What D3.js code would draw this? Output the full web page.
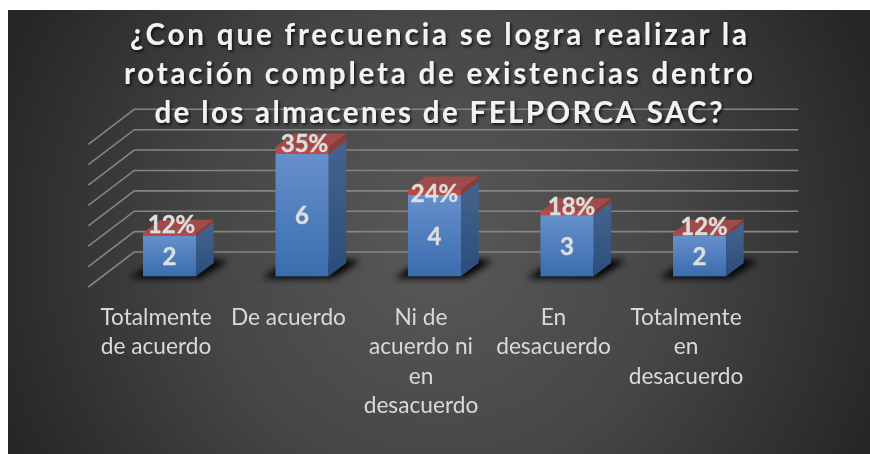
<!DOCTYPE html>
<html>
<head>
<meta charset="utf-8">
<script src="https://cdn.jsdelivr.net/npm/d3@7"></script>
<style>
html, body { margin: 0; padding: 0; background: #fff; overflow: hidden; }
svg { display: block; }
text { font-family: Lato, "Open Sans", sans-serif; }
</style>
</head>
<body>
<svg width="870" height="454"></svg>
<script>
// Chart values
var categories = ["Totalmente de acuerdo", "De acuerdo", "Ni de acuerdo ni en desacuerdo", "En desacuerdo", "Totalmente en desacuerdo"];
var counts = [2, 6, 4, 3, 2];
var shares = [0.12, 0.35, 0.24, 0.18, 0.12];
var yTicks = [0, 1, 2, 3, 4, 5, 6, 7];
var titleLines = ["¿Con que frecuencia se logra realizar la", "rotación completa de existencias dentro", "de los almacenes de FELPORCA SAC?"];
var categoryLines = [
    ["Totalmente", "de acuerdo"],
    ["De acuerdo"],
    ["Ni de", "acuerdo ni", "en", "desacuerdo"],
    ["En", "desacuerdo"],
    ["Totalmente", "en", "desacuerdo"]
];

var svg = d3.select("svg");

// Scales, y is measured on the back wall
var x = d3.scaleBand().domain(categories).range([103.25, 765.75]).paddingInner(0.6).paddingOuter(0.3);
var y = d3.scaleLinear().domain([0, 7]).range([252, 109.3]);

// 3d offsets
var frontDrop = 24.3;    // wall to bar front
var depthX = 17.7, depthY = -13.3;    // bar depth
var sideX = -46, sideY = 35;    // floor lines on the left wall
var line = d3.line();

var defs = svg.append("defs");

var bg = defs.append("radialGradient").attr("id", "bg")
    .attr("gradientUnits", "userSpaceOnUse")
    .attr("cx", 439).attr("cy", 245).attr("r", 470);
bg.append("stop").attr("offset", "0").attr("stop-color", "#595959");
bg.append("stop").attr("offset", "0.5").attr("stop-color", "#464646");
bg.append("stop").attr("offset", "1").attr("stop-color", "#262626");

function vertical(id, top, bottom) {
    var g = defs.append("linearGradient").attr("id", id).attr("x1", 0).attr("y1", 0).attr("x2", 0).attr("y2", 1);
    g.append("stop").attr("offset", "0").attr("stop-color", top);
    g.append("stop").attr("offset", "1").attr("stop-color", bottom);
}
vertical("blueFront", "#6690cb", "#3a6cae");
vertical("blueSide", "#45658f", "#2a4d7a");

defs.append("filter").attr("id", "soft").attr("x", "-30%").attr("y", "-60%").attr("width", "160%").attr("height", "220%")
    .append("feGaussianBlur").attr("stdDeviation", 3.5);
defs.append("filter").attr("id", "crisp")
    .append("feGaussianBlur").attr("stdDeviation", 0.45);
var titleShadow = defs.append("filter").attr("id", "titleShadow").attr("x", "-5%").attr("y", "-10%").attr("width", "110%").attr("height", "125%");
titleShadow.append("feGaussianBlur").attr("stdDeviation", 0.4);
titleShadow.append("feDropShadow").attr("dx", 1.5).attr("dy", 2).attr("stdDeviation", 1.4)
    .attr("flood-color", "#000").attr("flood-opacity", 0.75);

// Background
svg.append("rect").attr("x", 8).attr("y", 10).attr("width", 862).attr("height", 444).attr("fill", "url(#bg)");

// Gridlines: back wall and left wall
var grid = svg.append("g").attr("fill", "none").attr("stroke", "#858585").attr("stroke-width", 1.6);
grid.selectAll("path")
    .data(yTicks)
    .enter()
    .append("path")
    .attr("d", function (d) {
        return line([[134.3 + sideX, y(d) + sideY], [134.3, y(d)], [798.3, y(d)]]);
    });

// Floor shadows
svg.append("g").selectAll("path")
    .data(categories)
    .enter()
    .append("path")
    .attr("fill", "#050505")
    .attr("filter", "url(#soft)")
    .attr("d", function (d) {
        var x0 = x(d), x1 = x0 + x.bandwidth(), floor = y(0) + frontDrop;
        return line([[x0 - 14, floor + 2], [x1 + 4, floor + 2], [x1 + 32, floor - 15], [x1 + 8, floor - 18], [x0 + 8, floor - 12]]) + "Z";
    });

// Bars
var bars = svg.append("g").attr("filter", "url(#crisp)").selectAll("g")
    .data(categories)
    .enter()
    .append("g");

// side faces, one for the count and one for the share stacked on it
bars.append("path")
    .attr("fill", "url(#blueSide)")
    .attr("d", function (d, i) {
        var x1 = x(d) + x.bandwidth(), base = y(0) + frontDrop, top = y(counts[i]) + frontDrop;
        return line([[x1, base], [x1 + depthX, base + depthY], [x1 + depthX, top + depthY], [x1, top]]) + "Z";
    });
bars.append("path")
    .attr("fill", "#8e3b39")
    .attr("d", function (d, i) {
        var x1 = x(d) + x.bandwidth(), low = y(counts[i]) + frontDrop, top = y(counts[i] + shares[i]) + frontDrop;
        return line([[x1, low], [x1 + depthX, low + depthY], [x1 + depthX, top + depthY], [x1, top]]) + "Z";
    });
// top face
bars.append("path")
    .attr("fill", "#9e4c4a")
    .attr("d", function (d, i) {
        var x0 = x(d), x1 = x0 + x.bandwidth(), top = y(counts[i] + shares[i]) + frontDrop;
        return line([[x0, top], [x1, top], [x1 + depthX, top + depthY], [x0 + depthX, top + depthY]]) + "Z";
    });
// front faces
bars.append("rect")
    .attr("x", function (d) { return x(d); })
    .attr("y", function (d, i) { return y(counts[i]) + frontDrop; })
    .attr("width", x.bandwidth())
    .attr("height", function (d, i) { return y(0) - y(counts[i]); })
    .attr("fill", "url(#blueFront)");
bars.append("rect")
    .attr("x", function (d) { return x(d); })
    .attr("y", function (d, i) { return y(counts[i] + shares[i]) + frontDrop; })
    .attr("width", x.bandwidth())
    .attr("height", function (d, i) { return y(counts[i]) - y(counts[i] + shares[i]); })
    .attr("fill", "#bd4a47");

// Data labels
var labels = svg.append("g").attr("filter", "url(#crisp)").attr("fill", "#dedede").attr("stroke", "#dedede").attr("stroke-width", 0.4)
    .attr("font-weight", 700).attr("font-size", 24).attr("text-anchor", "middle");
labels.selectAll("text.count")
    .data(categories)
    .enter()
    .append("text")
    .attr("class", "count")
    .attr("x", function (d) { return x(d) + x.bandwidth() / 2; })
    .attr("y", function (d, i) { return (y(0) + y(counts[i])) / 2 + frontDrop + 9; })
    .text(function (d, i) { return counts[i]; });

// percent labels were moved by hand in the original
var shareNudge = [[2, -10], [2.5, -7], [0, 1], [4.5, -7], [4.5, -7.5]];
labels.selectAll("text.share")
    .data(categories)
    .enter()
    .append("text")
    .attr("class", "share")
    .attr("x", function (d, i) { return x(d) + x.bandwidth() / 2 + shareNudge[i][0]; })
    .attr("y", function (d, i) {
        return (y(counts[i]) + y(counts[i] + shares[i])) / 2 + frontDrop + 8.5 + shareNudge[i][1];
    })
    .text(function (d, i) { return Math.round(shares[i] * 100) + "%"; });

// Category labels
var catLabels = svg.append("g").attr("filter", "url(#crisp)").attr("fill", "#d9d9d9").attr("font-size", 22.7).attr("text-anchor", "middle");
catLabels.selectAll("text")
    .data(categories)
    .enter()
    .append("text")
    .attr("y", 325)
    .each(function (d, i) {
        d3.select(this).selectAll("tspan")
            .data(categoryLines[i])
            .enter()
            .append("tspan")
            .attr("x", x(d) + x.bandwidth() / 2 - 13.5)
            .attr("y", function (t, j) { return 325 + j * 29.4; })
            .text(function (t) { return t; });
    });

// Title, line widths
var titleWidths = [617, 629, 568];
svg.append("g").attr("filter", "url(#titleShadow)").selectAll("text")
    .data(titleLines)
    .enter()
    .append("text")
    .attr("x", 438.5)
    .attr("y", function (d, i) { return 45 + i * 38.8; })
    .attr("text-anchor", "middle")
    .attr("fill", "#f2f2f2")
    .attr("font-weight", 700)
    .attr("font-size", 29.5)
    .attr("textLength", function (d, i) { return titleWidths[i]; })
    .attr("lengthAdjust", "spacing")
    .text(function (d) { return d; });
</script>
</body>
</html>
